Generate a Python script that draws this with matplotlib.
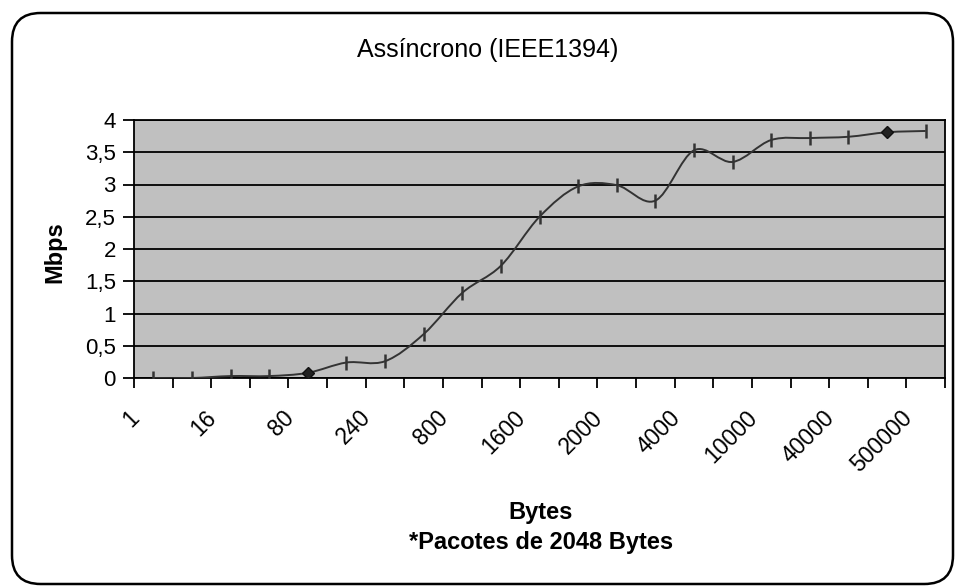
import numpy as np
import matplotlib
matplotlib.use("Agg")
import matplotlib.pyplot as plt
from matplotlib.path import Path
from matplotlib.patches import PathPatch, FancyBboxPatch
from matplotlib.transforms import ScaledTranslation

plt.rcParams['font.family'] = ['Liberation Sans', 'DejaVu Sans']

# tamanhos de pacote (categorias) e taxa medida em Mbps
tamanhos = ['1', '8', '16', '40', '80', '160', '240', '400', '800', '1200', '1600',
            '1800', '2000', '3000', '4000', '6000', '10000', '20000', '40000',
            '100000', '500000']
mbps = [0.0, 0.0, 0.03, 0.03, 0.08, 0.24, 0.26, 0.68, 1.32, 1.74, 2.50,
        2.97, 2.99, 2.75, 3.53, 3.35, 3.69, 3.72, 3.74, 3.81, 3.83]
destaque = [4, 19]  # pontos com marcador losango
yticks = [0, 0.5, 1, 1.5, 2, 2.5, 3, 3.5, 4]
ylabels = ['0', '0,5', '1', '1,5', '2', '2,5', '3', '3,5', '4']

x = np.arange(len(tamanhos))
y = np.array(mbps)

fig = plt.figure(figsize=(9.55, 5.87), dpi=100)
W, H = 955, 587
ax = fig.add_axes([134 / W, 1 - 378 / H, (945 - 134) / W, (378 - 120) / H])
ax.set_facecolor('#C0C0C0')

# linha suavizada (estilo Excel: bezier tipo Catmull-Rom)
P = np.column_stack([x, y])
Pe = np.vstack([P[0], P, P[-1]])
verts = [tuple(P[0])]
codes = [Path.MOVETO]
for i in range(len(P) - 1):
    p0, p1, p2, p3 = Pe[i], Pe[i + 1], Pe[i + 2], Pe[i + 3]
    c1 = p1 + (p2 - p0) / 6.0
    c2 = p2 - (p3 - p1) / 6.0
    verts += [tuple(c1), tuple(c2), tuple(p2)]
    codes += [Path.CURVE4] * 3
ax.add_patch(PathPatch(Path(verts, codes), facecolor='none', edgecolor='#333333',
                       lw=1.4, zorder=3))

normais = [i for i in x if i not in destaque]
ax.plot(x[normais], y[normais], ls='none', marker='|', ms=9.5, mew=1.8,
        color='#333333', zorder=4)
ax.plot(x[destaque], y[destaque], ls='none', marker='D', ms=6,
        mfc='#222222', mec='#111111', zorder=4)

ax.set_xlim(-0.5, len(tamanhos) - 0.5)
ax.set_ylim(0, 4)
ax.set_yticks(yticks)
ax.set_yticklabels(ylabels, fontsize=16)
ax.yaxis.grid(True, color='black', lw=1.3)
ax.set_axisbelow(True)

# marcas nas divisas das categorias, rotulos em categorias alternadas
ax.set_xticks(np.arange(len(tamanhos) + 1) - 0.5)
ax.set_xticklabels([])
desloc = ax.get_xaxis_transform() + ScaledTranslation(-0.175, -0.36, fig.dpi_scale_trans)
for xi, rot in zip(x[::2], tamanhos[::2]):
    ax.text(xi, 0, rot, transform=desloc, rotation=45, ha='right', va='center',
            rotation_mode='anchor', fontsize=16.5)
ax.tick_params(axis='x', length=7, width=1.3, direction='out')
ax.tick_params(axis='y', length=8, width=1.3, direction='out', pad=5)
for s in ax.spines.values():
    s.set_color('black')
    s.set_linewidth(1.3)

fig.text(488 / W, 1 - 50 / H, 'Assíncrono (IEEE1394)', ha='center', va='center',
         fontsize=18)
fig.text(55 / W, 1 - 252 / H, 'Mbps', ha='center', va='center', rotation=90,
         fontsize=17, fontweight='bold')
fig.text(541 / W, 1 - 512 / H, 'Bytes', ha='center', va='center',
         fontsize=17, fontweight='bold')
fig.text(541 / W, 1 - 542 / H, '*Pacotes de 2048 Bytes', ha='center', va='center',
         fontsize=17, fontweight='bold')

# moldura arredondada
fig.patches.append(FancyBboxPatch((12 / W, 3 / H), (941) / W, (571) / H,
                                  boxstyle='round,pad=0,rounding_size=0.03',
                                  transform=fig.transFigure, fill=False,
                                  ec='black', lw=1.8, mutation_aspect=W / H))

fig.savefig('out.png', dpi=100)
